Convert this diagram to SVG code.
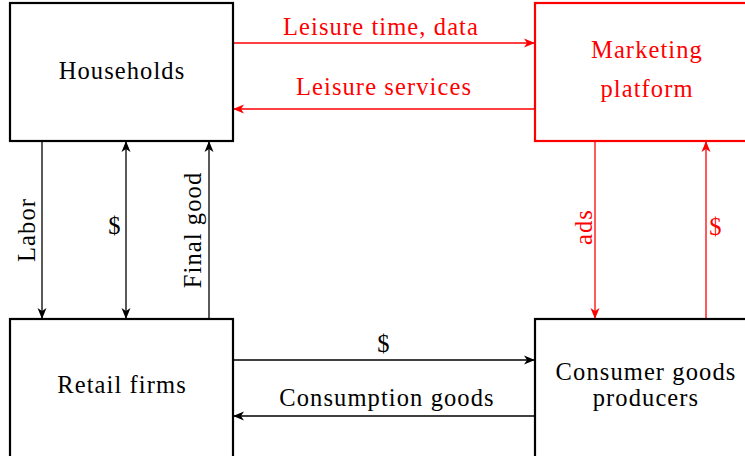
<svg xmlns="http://www.w3.org/2000/svg" width="745" height="456" viewBox="0 0 745 456">
<style>
.box{fill:#fff;stroke:#000;stroke-width:2.2}
.rbox{fill:#fff;stroke:#ff0000;stroke-width:2.2}
.t{font-family:"Liberation Serif","Times New Roman",serif;font-size:24.5px;letter-spacing:1.1px;fill:#000;text-anchor:middle}
.rt{fill:#ff0000}
.c{fill:none;stroke:#000;stroke-width:1.3}
.rc{fill:none;stroke:#ff0000;stroke-width:1.3}
</style>
<defs>
<marker id="ah" markerUnits="userSpaceOnUse" markerWidth="12" markerHeight="10" refX="11" refY="5" orient="auto-start-reverse" viewBox="0 0 12 10">
<path d="M0,0.5 L11,5 L0,9.5 L3,5 z" fill="#000"/>
</marker>
<marker id="rah" markerUnits="userSpaceOnUse" markerWidth="12" markerHeight="10" refX="11" refY="5" orient="auto-start-reverse" viewBox="0 0 12 10">
<path d="M0,0.5 L11,5 L0,9.5 L3,5 z" fill="#ff0000"/>
</marker>
</defs>
<g id="connectors">
<path class="rc" d="M233,43 H535" marker-end="url(#rah)"/>
<path class="rc" d="M535,109 H233" marker-end="url(#rah)"/>
<path class="c" d="M42,141 V319" marker-end="url(#ah)"/>
<path class="c" d="M126,141 V319" marker-start="url(#ah)" marker-end="url(#ah)"/>
<path class="c" d="M209,319 V141" marker-end="url(#ah)"/>
<path class="rc" d="M595,141 V319" marker-end="url(#rah)"/>
<path class="rc" d="M706,319 V141" marker-end="url(#rah)"/>
<path class="c" d="M233,360 H535" marker-end="url(#ah)"/>
<path class="c" d="M535,416 H233" marker-end="url(#ah)"/>
<text class="t rt" x="381" y="35">Leisure time, data</text>
<text class="t rt" x="384" y="95">Leisure services</text>
<text class="t" transform="translate(35,230) rotate(-90)">Labor</text>
<text class="t" x="115" y="234">$</text>
<text class="t" transform="translate(201,230) rotate(-90)">Final good</text>
<text class="t rt" transform="translate(592,227) rotate(-90)">ads</text>
<text class="t rt" x="716" y="235">$</text>
<text class="t" x="384" y="352">$</text>
<text class="t" x="387" y="406">Consumption goods</text>
</g>
<g id="households">
<rect class="box" x="10" y="3" width="223" height="138"/>
<text class="t" x="122" y="79">Households</text>
</g>
<g id="marketing-platform">
<rect class="rbox" x="535" y="3" width="213" height="138"/>
<text class="t rt" x="647" y="58">Marketing</text>
<text class="t rt" x="647" y="97">platform</text>
</g>
<g id="retail-firms">
<rect class="box" x="10" y="319" width="223" height="140"/>
<text class="t" x="122" y="393">Retail firms</text>
</g>
<g id="consumer-goods-producers">
<rect class="box" x="535" y="319" width="213" height="140"/>
<text class="t" x="646" y="380">Consumer goods</text>
<text class="t" x="646" y="406">producers</text>
</g>
</svg>
